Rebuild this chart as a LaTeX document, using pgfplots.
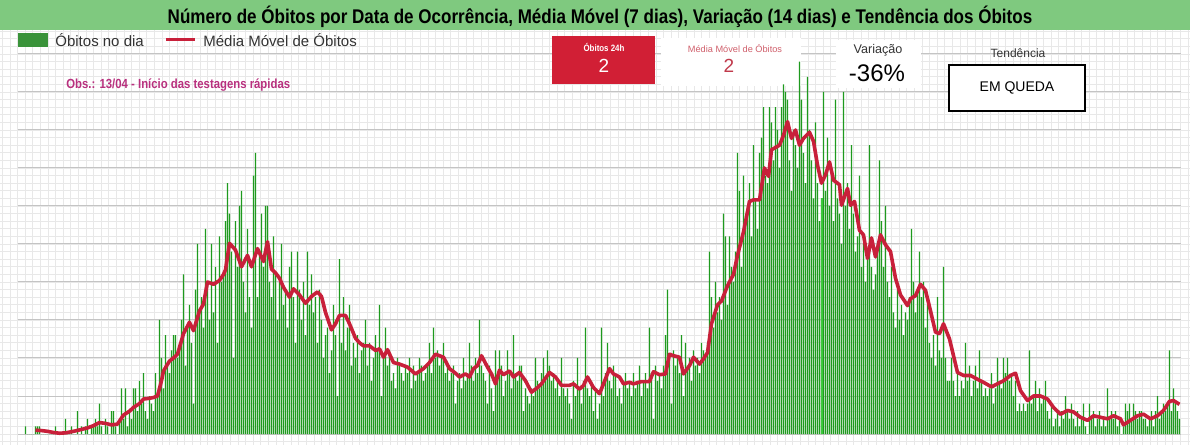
\documentclass[border=0pt]{standalone}
\usepackage{pgfplots}
\pgfplotsset{compat=1.18}
\usepackage{fontspec}
\setmainfont{Liberation Sans}
\newfontfamily\cond[FakeStretch=0.86]{Liberation Sans}
\definecolor{titlegreen}{HTML}{7FC97F}
\definecolor{bargreen}{HTML}{1E9A1E}
\definecolor{leggreen}{HTML}{3A933A}
\definecolor{hlgreen}{HTML}{3CC83C}
\definecolor{mared}{HTML}{C8203A}
\definecolor{boxred}{HTML}{D11F35}
\definecolor{obs}{HTML}{B8307E}
\definecolor{minorgrid}{HTML}{E8E8E8}
\definecolor{majorgrid}{HTML}{C4C4C4}
\definecolor{legtext}{HTML}{333333}
\definecolor{mmtext}{HTML}{D0606C}
\definecolor{mmnum}{HTML}{C0394B}
\begin{document}
\begin{tikzpicture}
\useasboundingbox (0,0) rectangle (595pt,222.5pt);
\fill[white] (0,0) rectangle (595pt,222.5pt);
\begin{axis}[at={(0,0)}, anchor=south west, scale only axis,
  width=595pt, height=207.5pt,
  xmin=-12.75, xmax=582.25, ymin=-1.447, ymax=53.158,
  axis line style={draw=none}, tick style={draw=none},
  xticklabels={}, yticklabels={},
  xtick={-11.6,-7.8,...,582}, ytick={-1,0,...,53},
  grid=major, major grid style={minorgrid, line width=0.4pt}]
\pgfplotsinvokeforeach{0,5,...,50}{\draw[majorgrid, line width=0.5pt] (axis cs:-4,#1) -- (axis cs:577.5,#1);}
\fill[white] (axis cs:317.5,45.8) rectangle (axis cs:387.5,52.1);
\fill[white] (axis cs:405,45.5) rectangle (axis cs:447.5,51.8);
\addplot[ybar, bar width=0.56pt, fill=bargreen, draw=none, mark=none] table[x expr=\coordindex, y=v, row sep=\\] {
v\\
1\\0\\0\\0\\0\\1\\1\\1\\0\\0\\0\\0\\0\\0\\0\\1\\0\\0\\0\\0\\
2\\0\\0\\1\\0\\0\\3\\0\\1\\0\\1\\2\\0\\1\\1\\2\\1\\4\\1\\0\\
2\\1\\0\\3\\3\\1\\0\\2\\6\\2\\6\\1\\3\\2\\6\\6\\3\\7\\4\\8\\
3\\2\\5\\4\\3\\8\\5\\15\\10\\6\\13\\9\\8\\11\\13\\13\\10\\12\\15\\21\\
9\\14\\17\\12\\4\\19\\25\\16\\18\\14\\27\\20\\15\\25\\16\\22\\12\\26\\20\\21\\
28\\33\\29\\24\\10\\28\\22\\30\\32\\20\\16\\27\\18\\14\\34\\37\\18\\24\\29\\22\\
30\\30\\20\\18\\26\\21\\15\\20\\25\\17\\19\\14\\22\\24\\18\\12\\24\\19\\15\\20\\
13\\24\\17\\21\\16\\18\\12\\19\\15\\10\\13\\14\\8\\11\\17\\13\\5\\23\\12\\18\\
11\\14\\17\\9\\12\\10\\13\\8\\11\\12\\15\\9\\12\\7\\10\\13\\11\\17\\5\\10\\
14\\9\\11\\7\\8\\6\\10\\9\\8\\7\\9\\8\\10\\6\\9\\7\\8\\10\\9\\7\\
8\\9\\12\\8\\14\\10\\11\\9\\10\\12\\8\\9\\7\\8\\9\\4\\7\\8\\6\\10\\
7\\8\\12\\9\\7\\10\\8\\15\\9\\8\\7\\4\\9\\6\\3\\11\\7\\11\\9\\5\\
7\\11\\8\\6\\13\\8\\7\\9\\9\\3\\6\\5\\4\\6\\5\\10\\7\\6\\8\\10\\
7\\11\\9\\7\\8\\6\\7\\5\\10\\6\\5\\6\\4\\2\\7\\5\\10\\6\\4\\7\\
14\\6\\5\\7\\3\\6\\2\\4\\14\\5\\8\\12\\7\\6\\9\\8\\5\\6\\4\\7\\
8\\6\\7\\5\\8\\6\\7\\9\\5\\7\\8\\6\\14\\8\\2\\9\\7\\8\\6\\9\\
13\\19\\10\\4\\11\\9\\10\\8\\13\\5\\12\\9\\10\\7\\11\\9\\10\\8\\12\\11\\
10\\12\\24\\18\\14\\20\\16\\18\\15\\29\\26\\17\\26\\22\\20\\24\\37\\32\\22\\34\\
28\\30\\33\\26\\38\\31\\27\\37\\39\\43\\34\\33\\43\\41\\36\\43\\40\\35\\43\\46\\
45\\44\\36\\32\\40\\38\\35\\49\\44\\37\\33\\47\\40\\36\\31\\41\\33\\28\\31\\45\\
32\\39\\30\\34\\28\\44\\31\\29\\25\\45\\30\\33\\27\\38\\29\\24\\26\\34\\22\\25\\
20\\24\\38\\22\\19\\21\\25\\36\\28\\22\\30\\20\\18\\22\\16\\14\\19\\15\\17\\13\\
16\\15\\18\\27\\20\\16\\19\\24\\18\\20\\14\\17\\12\\10\\13\\9\\18\\11\\10\\22\\
10\\7\\7\\10\\7\\5\\8\\5\\7\\6\\12\\7\\9\\5\\7\\9\\6\\11\\7\\5\\
6\\5\\6\\8\\4\\6\\10\\7\\6\\10\\8\\10\\7\\8\\5\\7\\3\\4\\3\\4\\
3\\4\\11\\4\\5\\7\\3\\6\\4\\5\\7\\3\\2\\4\\1\\2\\3\\1\\3\\2\\
5\\3\\2\\4\\2\\1\\3\\1\\2\\4\\1\\0\\4\\2\\3\\1\\2\\3\\1\\2\\
1\\6\\2\\3\\2\\3\\1\\2\\0\\1\\4\\3\\4\\2\\4\\3\\2\\3\\3\\2\\
2\\1\\2\\3\\1\\3\\5\\2\\3\\4\\3\\4\\11\\3\\6\\4\\3\\2\\
};
\addplot[ybar, bar width=1pt, fill=hlgreen, draw=none, mark=none] coordinates {(398,31)};
\addplot[draw=mared, line width=1.8pt, line join=round, mark=none] table[x=d, y=m, row sep=\\] {
d m\\
5 0.5\\ 8 0.45\\ 11 0.35\\ 14 0.2\\ 17 0.1\\ 20 0.15\\ 24 0.35\\ 28 0.6\\ 31 0.8\\ 34 1.1\\
37 1.5\\ 40 1.4\\ 43 1.2\\ 46 1.3\\ 49 2.5\\ 52 3.0\\ 54 3.5\\ 57 4.0\\ 59 4.6\\ 62 4.7\\
64 4.8\\ 66 5.0\\ 68 7.0\\ 69 8.3\\ 72 9.6\\ 74 10.0\\ 76 10.5\\ 79 13.2\\ 82 14.7\\ 84 13.6\\
87 16.2\\ 89 17.1\\ 91 20\\ 94 19.7\\ 97 20.2\\ 99 21\\ 100 21.6\\ 102 25.1\\ 104 24.5\\ 105 24.2\\
108 22\\ 111 23.5\\ 113 22\\ 116 24.4\\ 119 22.7\\ 121 25.3\\ 123 21.7\\ 125 21.2\\ 127 20.5\\ 129 19.3\\
132 18\\ 134 19.1\\ 137 18.3\\ 140 17.2\\ 143 18.1\\ 146 18.7\\ 148 18.1\\ 150 16\\ 153 13.7\\ 155 14.5\\
157 15.6\\ 160 15.6\\ 162 14.5\\ 165 12.6\\ 167 12\\ 169 11.6\\ 172 11.6\\ 175 11\\ 177 11.2\\ 179 10.1\\
181 11.1\\ 184 9.4\\ 187 9.2\\ 191 8.8\\ 195 7.9\\ 199 8.6\\ 202 9.4\\ 205 10.5\\ 209 10.1\\ 212 8.6\\
215 8\\ 217 7.5\\ 220 7.9\\ 222 7.5\\ 224 8.6\\ 226 9\\ 228 10.3\\ 231 8.8\\ 233 7.9\\ 235 6.6\\
237 8.4\\ 239 7.8\\ 242 8.3\\ 244 7.5\\ 247 8.1\\ 250 7\\ 253 5.5\\ 256 6.1\\ 258 6.6\\ 262 8.1\\
265 7.5\\ 268 6.4\\ 272 6.4\\ 274 6.6\\ 277 5.9\\ 279 6.4\\ 281 7.5\\ 284 6.1\\ 287 5.3\\ 289 6.6\\
292 8.6\\ 294 7.9\\ 297 7.5\\ 299 6.6\\ 302 6.8\\ 304 6.6\\ 308 6.9\\ 312 6.9\\ 314 8.2\\ 317 7.8\\
320 7.9\\ 322 10.5\\ 324 10.3\\ 327 10.1\\ 329 7.9\\ 332 9\\ 334 10.1\\ 337 9.2\\ 339 9.9\\ 341 10.7\\
343 14.5\\ 346 17\\ 348 17.5\\ 351 19.5\\ 354 21\\ 356 23.5\\ 359 26.6\\ 362 30.6\\ 364 30.8\\ 367 30.8\\
368 32.5\\ 369.5 35\\ 371.5 33.9\\ 373 37.4\\ 377 38\\ 379 39.3\\ 381 41.1\\ 383 38.9\\ 385 40\\ 387 38\\
389 38.9\\ 392 39.7\\ 394 38.5\\ 396 35.4\\ 398 33\\ 400 34.1\\ 402 35.8\\ 404 33.4\\ 407 32.8\\ 408 30.1\\
411 32.3\\ 412.5 30.1\\ 414.5 30.6\\ 417 26.8\\ 419 26.2\\ 421 23.1\\ 423 25.8\\ 425 23.3\\ 427.5 26.2\\ 430 24.9\\
432.5 24\\ 435 20.5\\ 437.5 18.3\\ 441 16.9\\ 442.5 17.8\\ 445 18.2\\ 447.5 19.7\\ 450 18.9\\ 452.5 16.2\\ 455 13.4\\
457 13.2\\ 459 14.5\\ 462 12.5\\ 464 10.3\\ 466 8.1\\ 469 7.7\\ 472.5 7.7\\ 476 7.2\\ 479 6.8\\ 483 6.2\\
486 6.6\\ 489 7\\ 492.5 7.7\\ 495 8\\ 497.5 5.7\\ 501 4.4\\ 504 5\\ 507.5 5\\ 511 4.6\\ 514 3.5\\
517.5 2.6\\ 521 3.1\\ 524 2.9\\ 527.5 2.2\\ 531 1.8\\ 534 2.4\\ 537.5 2.2\\ 541 2\\ 544 2.4\\ 547.5 2\\
549 1.2\\ 552.5 1.8\\ 556 2.4\\ 559 2.6\\ 562.5 2\\ 566 2.4\\ 569 3.1\\ 572 4.3\\ 574 4.4\\ 577 3.9\\
};
\end{axis}
% title bar
\fill[titlegreen] (0,207.5pt) rectangle (595pt,222.5pt);
\node[font=\cond\bfseries\fontsize{9.9}{11}\selectfont, text=black] at (300pt,214.2pt) {Número de Óbitos por Data de Ocorrência, Média Móvel (7 dias), Variação (14 dias) e Tendência dos Óbitos};
% legend
\fill[leggreen] (9pt,199pt) rectangle (24pt,206pt);
\node[anchor=west, inner sep=0pt, text=legtext, font=\fontsize{7.5}{9}\selectfont] at (27.5pt,202.5pt) {Óbitos no dia};
\draw[mared, line width=1.5pt] (83pt,202.5pt) -- (97.5pt,202.5pt);
\node[anchor=west, inner sep=0pt, text=legtext, font=\fontsize{7.5}{9}\selectfont] at (101.5pt,202.5pt) {Média Móvel de Óbitos};
% obs
\node[anchor=west, inner sep=0pt, text=obs, font=\cond\bfseries\fontsize{6.6}{8}\selectfont] at (33pt,180pt) {Obs.: 13/04 - Início das testagens rápidas};
% red box
\fill[boxred] (276pt,180.5pt) rectangle (327.5pt,204.5pt);
\node[text=white, font=\cond\bfseries\fontsize{4.6}{5}\selectfont] at (302pt,199pt) {Óbitos 24h};
\node[text=white, font=\fontsize{9.5}{11}\selectfont] at (302pt,189.5pt) {2};
% media movel
\node[text=mmtext, font=\fontsize{4.6}{5}\selectfont] at (367.5pt,198pt) {Média Móvel de Óbitos};
\node[text=mmnum, font=\fontsize{9.5}{11}\selectfont] at (364.5pt,189.5pt) {2};
% variacao
\node[text=legtext, font=\fontsize{6.3}{8}\selectfont] at (439pt,197.5pt) {Variação};
\node[text=black, font=\fontsize{12}{14}\selectfont] at (438.5pt,186pt) {-36\%};
% tendencia
\node[text=legtext, font=\fontsize{6}{7}\selectfont] at (509pt,196pt) {Tendência};
\draw[black, fill=white, line width=0.6pt] (474.5pt,167pt) rectangle (542.5pt,190pt);
\node[text=black, font=\fontsize{7}{8}\selectfont] at (508.5pt,178.5pt) {EM QUEDA};
\end{tikzpicture}
\end{document}
